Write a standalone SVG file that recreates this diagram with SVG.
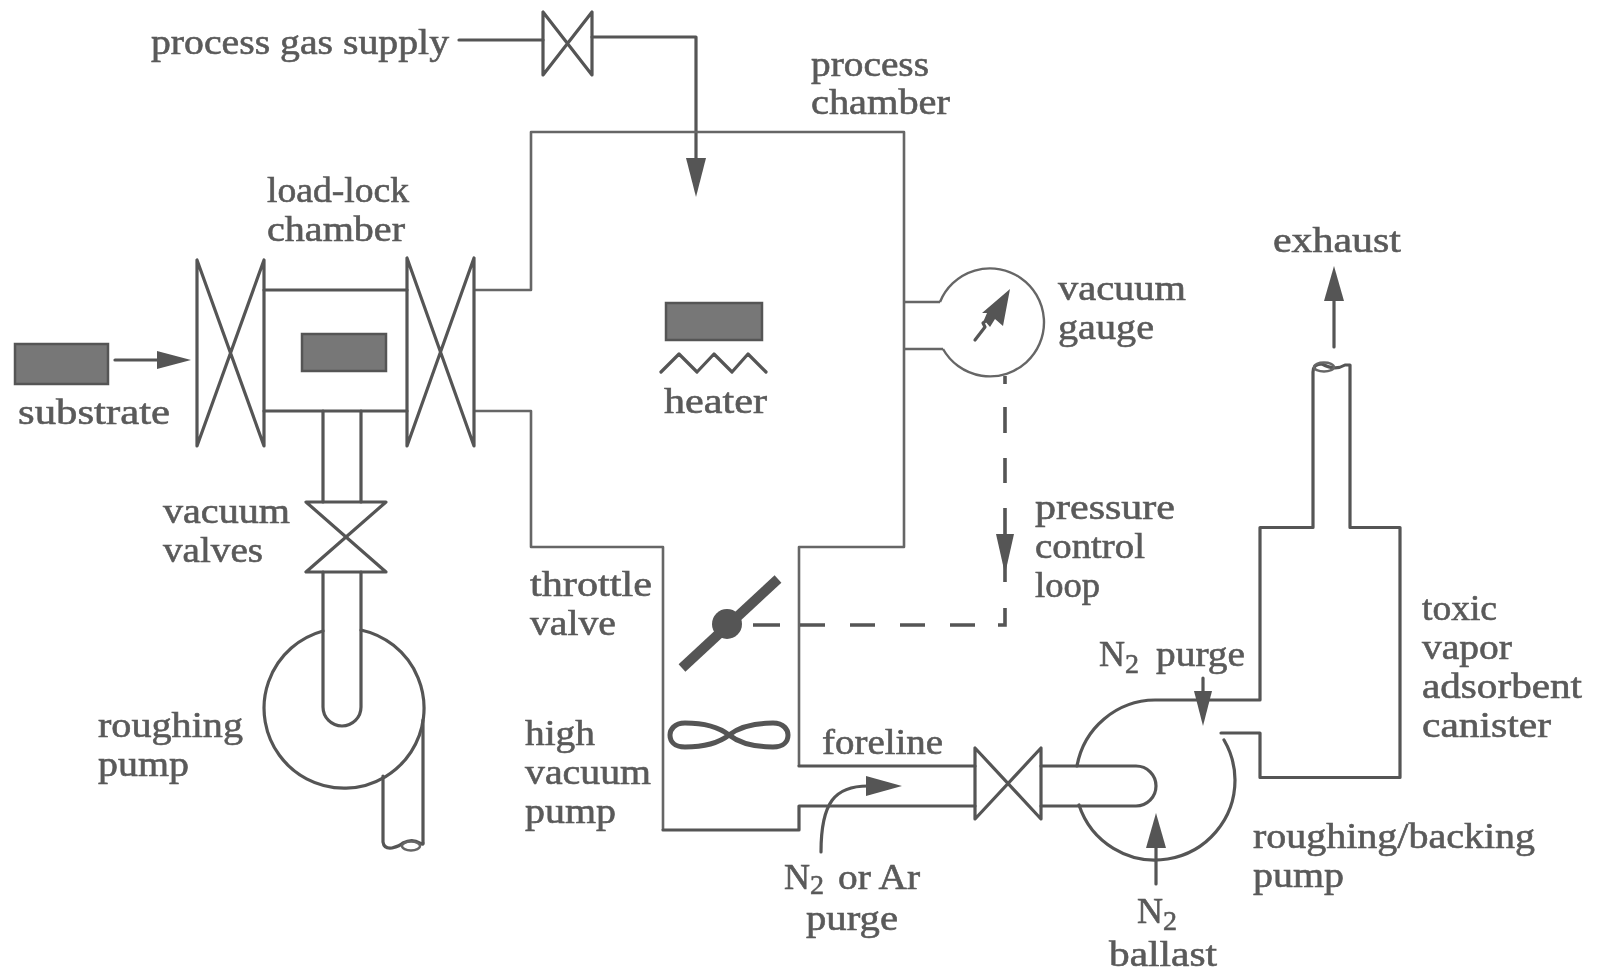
<svg xmlns="http://www.w3.org/2000/svg" width="1600" height="971" viewBox="0 0 1600 971">
<defs>
<style>
.l{fill:none;stroke:#555;stroke-width:3.2;stroke-linejoin:round;stroke-linecap:round}
.t{fill:none;stroke:#666;stroke-width:2.4}
.c{fill:none;stroke:#666;stroke-width:2.6;stroke-linejoin:round}
.d{fill:none;stroke:#555;stroke-width:3.6}
.f{fill:#777;stroke:#555;stroke-width:2.5}
.h{fill:#555;stroke:none}
text{font-family:"Liberation Serif","Times New Roman",serif;font-size:36px;fill:#5a5a5a;stroke:#5a5a5a;stroke-width:0.6}
.s{font-size:28px}
</style>
<filter id="b" x="-2%" y="-2%" width="104%" height="104%"><feGaussianBlur stdDeviation="0.6"/></filter>
</defs>
<rect width="1600" height="971" fill="#fff"/>
<g filter="url(#b)">
<g id="connectors">
<path class="l" d="M459 40H543M592 37H696V160"/><polygon class="h" points="686,158 706,158 696,197"/>
<path class="l" d="M115 360H160"/><polygon class="h" points="157,351 157,369 191,360"/>
<path class="c" d="M474 290H531V132H904V547H799V766"/>
<path class="l" d="M799 766H975"/>
<path class="c" d="M474 411H531V547H663V830"/>
<path class="l" d="M663 830H799V806H975"/>
<path class="l" d="M264 290H407M264 411H407"/>
<path class="l" d="M323 411V502M361 411V502"/>
<path class="t" d="M904 302H940M904 349H943"/>
<path class="d" d="M1005 376V384M1005 407V433M1005 458V483M1005 508V582M1005 608V625H998M975 625H950M925 625H900M875 625H850M825 625H800M780 625H753"/>
<polygon class="h" points="996,534 1014,534 1005,574"/>
<path class="l" d="M821 852C821 802 835 786 868 786"/><polygon class="h" points="866,776 866,796 902,786"/>
<path class="l" d="M1203 678V705"/><polygon class="h" points="1194,691 1212,691 1203,726"/>
<path class="l" d="M1156 884V845"/><polygon class="h" points="1146,848 1166,848 1156,813"/>
<path class="l" d="M1334 347V298"/><polygon class="h" points="1324,301 1344,301 1334,266"/>
</g>
<g id="load-lock-inlet-valve"><path class="l" d="M197 260V446L264 260V446Z"/></g>
<g id="load-lock-outlet-valve"><path class="l" d="M407 258V446L474 258V446Z"/></g>
<g id="process-gas-valve"><path class="l" d="M543 12V75L592 12V75Z"/></g>
<g id="vacuum-valve"><path class="l" d="M306 502H386L306 572H386Z"/></g>
<g id="foreline-valve"><path class="l" d="M975 748V819L1041 748V819Z"/></g>
<g id="substrate"><rect class="f" x="15" y="344" width="93" height="40"/></g>
<g id="load-lock-substrate"><rect class="f" x="302" y="334" width="84" height="37"/></g>
<g id="heater"><rect class="f" x="666" y="303" width="96" height="37"/><path class="l" d="M661 372L679 354L697 372L714 354L732 372L748 354L766 372"/></g>
<g id="vacuum-gauge"><path class="t" d="M940 302A54 54 0 1 1 943 349"/><path class="l" d="M975 340L985 327L983 323L992 316"/><polygon class="h" points="1010,289 1003,326 995,319 990,327 984,320 987,313 982,313"/></g>
<g id="roughing-pump-left"><path class="l" d="M323 572V707A19 19 0 0 0 361 707V572"/><path class="l" d="M323 631A80 80 0 1 0 361 630"/>
<path class="l" d="M383 776V842Q384 849 392 848Q400 846 403 843Q412 838 420 843Q424 846 423 842V720"/><ellipse class="t" cx="411" cy="846" rx="9" ry="4.5"/></g>
<g id="throttle-valve"><path d="M682 668L778 579" fill="none" stroke="#555" stroke-width="10"/><circle class="h" cx="727" cy="624" r="15"/></g>
<g id="high-vacuum-pump"><path d="M729 735C715 724 695 723 685 723C674 723 670 730 670 735C670 741 674 747 685 747C695 747 715 746 729 735C743 724 763 723 773 723C784 723 788 730 788 735C788 741 784 747 773 747C763 747 743 746 729 735Z" fill="none" stroke="#555" stroke-width="5"/></g>
<g id="backing-pump"><path class="l" d="M1041 766H1136A20 20 0 0 1 1136 806H1041"/>
<path class="l" d="M1077 766A80 80 0 0 1 1155 700H1260V527.500H1313V372Q1313 364 1322 364Q1335 371 1345 365H1350V527.500H1400V777.500H1260V733H1221"/>
<path class="l" d="M1224 740A80 80 0 0 1 1235 780A80 80 0 0 1 1079 805"/>
<ellipse class="t" cx="1324" cy="367" rx="10" ry="4.500"/></g>
<g id="labels">
<text x="151" y="54" textLength="298" lengthAdjust="spacingAndGlyphs">process gas supply</text>
<text x="811" y="76" textLength="118" lengthAdjust="spacingAndGlyphs">process</text>
<text x="811" y="114" textLength="139" lengthAdjust="spacingAndGlyphs">chamber</text>
<text x="267" y="202" textLength="142" lengthAdjust="spacingAndGlyphs">load-lock</text>
<text x="267" y="241" textLength="138" lengthAdjust="spacingAndGlyphs">chamber</text>
<text x="18" y="424" textLength="152" lengthAdjust="spacingAndGlyphs">substrate</text>
<text x="664" y="413" textLength="103" lengthAdjust="spacingAndGlyphs">heater</text>
<text x="1058" y="300" textLength="128" lengthAdjust="spacingAndGlyphs">vacuum</text>
<text x="1058" y="339" textLength="96" lengthAdjust="spacingAndGlyphs">gauge</text>
<text x="1273" y="252" textLength="128" lengthAdjust="spacingAndGlyphs">exhaust</text>
<text x="163" y="523" textLength="127" lengthAdjust="spacingAndGlyphs">vacuum</text>
<text x="163" y="562" textLength="100" lengthAdjust="spacingAndGlyphs">valves</text>
<text x="1035" y="519" textLength="140" lengthAdjust="spacingAndGlyphs">pressure</text>
<text x="1035" y="558" textLength="110" lengthAdjust="spacingAndGlyphs">control</text>
<text x="1035" y="597" textLength="65" lengthAdjust="spacingAndGlyphs">loop</text>
<text x="530" y="596" textLength="122" lengthAdjust="spacingAndGlyphs">throttle</text>
<text x="530" y="635" textLength="86" lengthAdjust="spacingAndGlyphs">valve</text>
<text x="1422" y="620" textLength="75" lengthAdjust="spacingAndGlyphs">toxic</text>
<text x="1422" y="659" textLength="90" lengthAdjust="spacingAndGlyphs">vapor</text>
<text x="1422" y="698" textLength="160" lengthAdjust="spacingAndGlyphs">adsorbent</text>
<text x="1422" y="737" textLength="129" lengthAdjust="spacingAndGlyphs">canister</text>
<text x="98" y="737" textLength="145" lengthAdjust="spacingAndGlyphs">roughing</text>
<text x="98" y="776" textLength="91" lengthAdjust="spacingAndGlyphs">pump</text>
<text x="525" y="745" textLength="70" lengthAdjust="spacingAndGlyphs">high</text>
<text x="525" y="784" textLength="126" lengthAdjust="spacingAndGlyphs">vacuum</text>
<text x="525" y="823" textLength="91" lengthAdjust="spacingAndGlyphs">pump</text>
<text x="822" y="754" textLength="121" lengthAdjust="spacingAndGlyphs">foreline</text>
<text x="1253" y="848" textLength="282" lengthAdjust="spacingAndGlyphs">roughing/backing</text>
<text x="1253" y="887" textLength="91" lengthAdjust="spacingAndGlyphs">pump</text>
<text x="1099" y="666">N<tspan class="s" dy="7">2</tspan></text>
<text x="1156" y="666" textLength="89" lengthAdjust="spacingAndGlyphs">purge</text>
<text x="784" y="889">N<tspan class="s" dy="5">2</tspan></text>
<text x="838" y="889" textLength="82" lengthAdjust="spacingAndGlyphs">or Ar</text>
<text x="806" y="930" textLength="92" lengthAdjust="spacingAndGlyphs">purge</text>
<text x="1137" y="923">N<tspan class="s" dy="7">2</tspan></text>
<text x="1109" y="966" textLength="108" lengthAdjust="spacingAndGlyphs">ballast</text>
</g>
</g>
</svg>
